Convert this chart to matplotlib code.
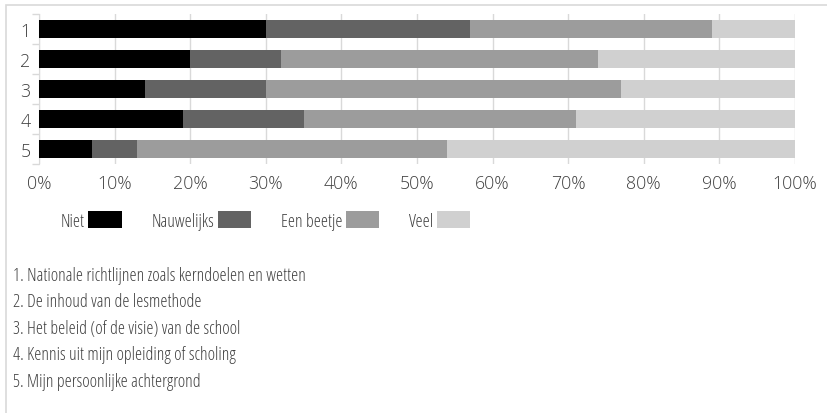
import matplotlib
matplotlib.use("Agg")
import matplotlib.pyplot as plt
from matplotlib.patches import Rectangle
import numpy as np

categories = ["1", "2", "3", "4", "5"]
series_names = ["Niet", "Nauwelijks", "Een beetje", "Veel"]
niet = [30, 20, 14, 19, 7]
nauwelijks = [27, 12, 16, 16, 6]
een_beetje = [32, 42, 47, 36, 41]
veel = [11, 26, 23, 29, 46]
xtick_values = [0, 10, 20, 30, 40, 50, 60, 70, 80, 90, 100]
footnotes = [
    "1. Nationale richtlijnen zoals kerndoelen en wetten",
    "2. De inhoud van de lesmethode",
    "3. Het beleid (of de visie) van de school",
    "4. Kennis uit mijn opleiding of scholing",
    "5. Mijn persoonlijke achtergrond",
]
colors = ["#000000", "#636363", "#9c9c9c", "#d0d0d0"]

plt.rcParams['font.family'] = ['Open Sans', 'DejaVu Sans']
text_color = "#404040"
tick_font = dict(family=['Open Sans', 'DejaVu Sans'], weight=300, stretch='normal', size=12.8)
cond_font = dict(family=['Open Sans', 'DejaVu Sans'], weight=300, stretch='condensed', size=12.8)

W, H = 828, 414
fig = plt.figure(figsize=(W / 100, H / 100), dpi=100)
fig.patch.set_facecolor("white")

# outer border (top and left only visible)
fig.add_artist(Rectangle((6 / W, -0.1), 1.2, 1 - 6 / H + 0.1, transform=fig.transFigure,
                         fill=False, edgecolor="#d9d9d9", linewidth=1.2))

ax = fig.add_axes([39 / W, 1 - 165 / H, (795 - 39) / W, (165 - 15) / H])
y = np.arange(len(categories))
data = [niet, nauwelijks, een_beetje, veel]
left = np.zeros(len(categories))
handles = []
for name, vals, c in zip(series_names, data, colors):
    b = ax.barh(y, vals, left=left, height=0.63, color=c, label=name, zorder=3)
    handles.append(b)
    left += np.array(vals)

ax.set_xlim(0, 100)
ax.set_ylim(len(categories) - 0.5, -0.5)
ax.set_xticks(xtick_values)
ax.set_xticklabels([f"{v}%" for v in xtick_values], color=text_color, **tick_font)
ax.set_yticks(y)
ax.set_yticklabels(categories, color=text_color, **tick_font)
ax.set_yticks(np.arange(-0.5, len(categories)), minor=True)
ax.tick_params(axis='y', which='major', length=0, pad=6)
ax.tick_params(axis='y', which='minor', length=5, color="#d9d9d9", width=1)
ax.tick_params(axis='x', length=0, pad=7)
ax.grid(axis='x', color="#d9d9d9", linewidth=1, zorder=0)
for s in ["top", "right", "bottom"]:
    ax.spines[s].set_visible(False)
ax.spines["left"].set_color("#d9d9d9")

leg = fig.legend(handles=handles, labels=series_names, loc="center",
                 bbox_to_anchor=(265.5 / W, 1 - 221.5 / H), ncol=4, frameon=False,
                 markerfirst=False, handlelength=1.86, handleheight=1.07,
                 handletextpad=0.22, columnspacing=1.68, labelcolor=text_color,
                 prop=cond_font)

for i, t in enumerate(footnotes):
    fig.text(13 / W, 1 - (281 + i * 26.5) / H, t, color=text_color,
             va="baseline", ha="left", **cond_font)

fig.savefig("out.png", dpi=100, facecolor="white")
